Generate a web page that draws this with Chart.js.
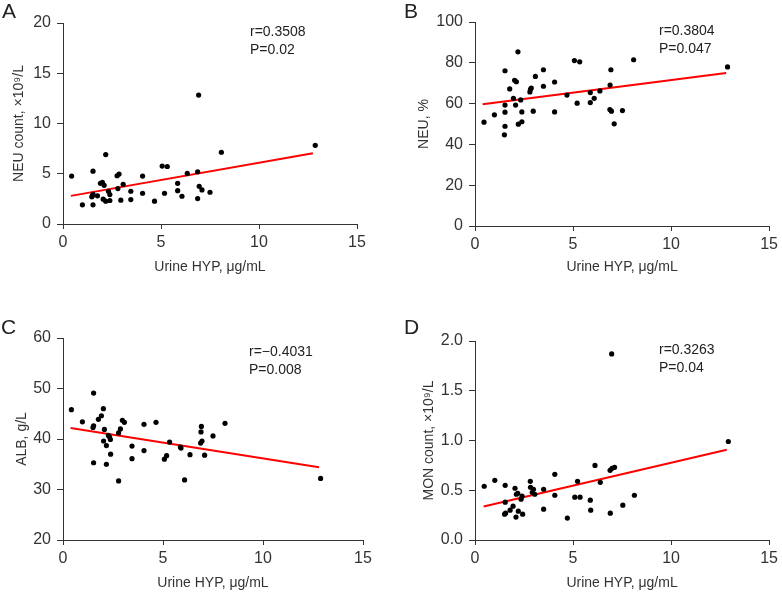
<!DOCTYPE html>
<html>
<head>
<meta charset="utf-8">
<script src="https://cdn.jsdelivr.net/npm/chart.js@4.4.0/dist/chart.umd.min.js"></script>
<style>
body{margin:0;background:#fff;width:782px;height:592px;position:relative;overflow:hidden;font-family:"Liberation Sans",Arial,sans-serif;color:#222}
.panel{position:absolute;width:391px;height:296px}
.tag{position:absolute;font-size:21px;line-height:21px}
.stat{position:absolute;font-size:14px;line-height:18px;white-space:nowrap}
</style>
</head>
<body>
<div class="panel" style="left:0;top:0"><canvas id="cA" width="391" height="296"></canvas></div>
<div class="panel" style="left:391px;top:0"><canvas id="cB" width="391" height="296"></canvas></div>
<div class="panel" style="left:0;top:296px"><canvas id="cC" width="391" height="296"></canvas></div>
<div class="panel" style="left:391px;top:296px"><canvas id="cD" width="391" height="296"></canvas></div>

<div class="tag" style="left:2px;top:0">A</div>
<div class="tag" style="left:404px;top:0">B</div>
<div class="tag" style="left:1px;top:316px">C</div>
<div class="tag" style="left:404px;top:316px">D</div>

<div class="stat" style="left:250px;top:22px">r=0.3508<br>P=0.02</div>
<div class="stat" style="left:659px;top:21px">r=0.3804<br>P=0.047</div>
<div class="stat" style="left:249px;top:342px">r=−0.4031<br>P=0.008</div>
<div class="stat" style="left:659px;top:340px">r=0.3263<br>P=0.04</div>

<script>
// urine HYP (x) for each panel
const hypA = [0.44,0.99,1.53,1.50,1.47,1.53,1.53,1.76,1.91,2.01,2.10,2.18,2.05,2.18,2.39,2.32,2.39,2.76,2.86,2.80,3.07,2.95,3.46,3.46,4.06,4.06,4.67,5.06,5.32,5.18,5.85,5.85,6.07,6.34,6.87,6.87,6.95,7.09,7.50,8.08,12.87,6.92];
const neuCount = [4.77,1.91,5.26,2.80,2.70,2.96,1.91,2.80,4.05,4.14,3.85,6.91,2.47,2.27,2.34,3.26,2.93,4.80,4.97,3.52,3.95,2.37,3.26,2.43,4.77,3.06,2.27,5.76,5.72,3.06,4.05,3.32,2.76,5.03,5.20,2.53,3.75,3.39,3.16,7.14,7.83,12.83];

const hypB = [0.46,0.99,1.53,1.53,1.53,1.53,1.50,1.77,1.96,2.02,2.11,2.07,2.19,2.21,2.33,2.39,2.39,2.80,2.83,2.87,2.97,3.08,3.49,3.49,4.06,4.06,4.69,5.07,5.21,5.34,5.88,5.88,6.08,6.37,6.89,6.93,6.88,6.96,7.10,7.52,8.09,12.88];
const neuPct = [50.9,54.5,76.1,59.3,55.8,48.9,44.7,67.2,62.6,71.4,70.7,59.3,85.4,49.9,61.8,55.9,51.1,65.7,67.0,67.6,56.3,73.3,76.6,68.5,70.6,55.9,64.2,81.1,60.2,80.5,65.4,60.5,62.6,66.2,69.1,76.6,57.1,56.3,50.1,56.6,81.5,78.0];

const hypC = [0.42,0.97,1.53,1.50,1.53,1.53,1.77,1.92,2.02,2.07,2.03,2.17,2.17,2.27,2.33,2.37,2.38,2.78,2.78,2.87,2.97,3.07,3.45,3.45,4.05,4.05,4.65,5.07,5.18,5.33,5.87,5.90,6.08,6.35,6.90,6.92,6.88,6.95,7.08,7.50,8.10,12.88];
const alb = [45.8,43.4,49.1,42.3,42.6,35.3,43.9,44.6,46.0,41.9,39.6,38.7,35.0,40.7,40.4,39.9,37.0,41.2,31.7,42.0,43.7,43.3,38.6,36.1,42.9,37.7,43.3,36.0,36.7,39.4,38.4,38.2,31.9,36.9,41.4,42.5,39.2,39.6,36.8,40.6,43.1,32.2];

const hypD = [0.47,1.01,1.54,1.54,1.51,1.56,1.79,1.94,2.04,2.11,2.18,2.09,2.21,2.35,2.40,2.43,2.82,2.83,2.92,2.98,3.05,3.50,3.50,4.07,4.07,4.71,5.09,5.23,5.36,5.88,5.90,6.12,6.39,6.90,6.89,6.99,7.12,6.97,7.54,8.13,12.92];
const monCount = [0.54,0.60,0.55,0.38,0.26,0.27,0.30,0.34,0.52,0.46,0.47,0.23,0.29,0.41,0.44,0.26,0.59,0.53,0.48,0.51,0.46,0.51,0.31,0.66,0.45,0.22,0.43,0.59,0.43,0.40,0.30,0.75,0.58,0.27,0.70,0.72,0.73,1.87,0.35,0.45,0.99];

// fitted line end points (x and y), as drawn
const fitAx = [0.40, 12.75], fitAy = [2.80, 7.04];
const fitBx = [0.39, 12.81], fitBy = [59.7, 75.0];
const fitCx = [0.38, 12.80], fitCy = [42.2, 34.4];
const fitDx = [0.44, 12.84], fitDy = [0.337, 0.907];

// axis ticks
const xTicks = [0, 5, 10, 15];
const xTickLabels = ['0', '5', '10', '15'];
const yTicksA = [0, 5, 10, 15, 20];
const yLabelsA = ['0', '5', '10', '15', '20'];
const yTicksB = [0, 20, 40, 60, 80, 100];
const yLabelsB = ['0', '20', '40', '60', '80', '100'];
const yTicksC = [20, 30, 40, 50, 60];
const yLabelsC = ['20', '30', '40', '50', '60'];
const yTicksD = [0, 0.5, 1, 1.5, 2];
const yLabelsD = ['0.0', '0.5', '1.0', '1.5', '2.0'];

const ink = '#333';

function scatterPanel(id, xs, ys, fx, fy, yTicks, yLabels, yTitle, box) {
    const pts = xs.map((x, i) => ({x: x, y: ys[i]}));
    const fit = fx.map((x, i) => ({x: x, y: fy[i]}));
    new Chart(document.getElementById(id), {
        type: 'scatter',
        data: {
            datasets: [{
                data: pts,
                backgroundColor: '#000',
                borderWidth: 0,
                pointRadius: 2.6
            }, {
                data: fit,
                showLine: true,
                borderColor: '#ff0000',
                borderWidth: 2,
                pointRadius: 0
            }]
        },
        options: {
            responsive: false,
            animation: false,
            layout: {padding: {left: 0, top: box.top, right: 391 - box.right, bottom: 0}},
            plugins: {legend: {display: false}, tooltip: {enabled: false}},
            scales: {
                x: {
                    type: 'linear',
                    min: 0, max: 15,
                    afterBuildTicks: s => { s.ticks = xTicks.map(v => ({value: v})) },
                    afterFit: s => { s.height = 296 - box.bottom },
                    grid: {drawOnChartArea: false, tickLength: 5, color: ink},
                    border: {color: ink, width: 1},
                    ticks: {
                        font: {size: 16, family: 'Liberation Sans'},
                        color: ink, padding: 4, maxRotation: 0,
                        callback: (v, i) => xTickLabels[i]
                    },
                    title: {
                        display: true, text: 'Urine HYP, μg/mL', color: ink,
                        font: {size: 14, family: 'Liberation Sans'},
                        padding: {top: 0, bottom: 296 - box.xTitleY - 8.4}
                    }
                },
                y: {
                    type: 'linear',
                    min: yTicks[0], max: yTicks[yTicks.length - 1],
                    afterBuildTicks: s => { s.ticks = yTicks.map(v => ({value: v})) },
                    afterFit: s => { s.width = box.left },
                    grid: {drawOnChartArea: false, tickLength: 6, color: ink},
                    border: {color: ink, width: 1},
                    ticks: {
                        font: {size: 16, family: 'Liberation Sans'},
                        color: ink, padding: 6,
                        callback: (v, i) => yLabels[i]
                    },
                    title: {
                        display: true, text: yTitle, color: ink,
                        font: {size: 14, family: 'Liberation Sans'},
                        padding: {top: box.yTitleX - 8.4, bottom: 0}
                    }
                }
            }
        }
    });
}

scatterPanel('cA', hypA, neuCount, fitAx, fitAy, yTicksA, yLabelsA, 'NEU count, ×10⁹/L',
    {left: 63, right: 357, top: 23, bottom: 224, yTitleX: 19, xTitleY: 267});
scatterPanel('cB', hypB, neuPct, fitBx, fitBy, yTicksB, yLabelsB, 'NEU, %',
    {left: 84, right: 380, top: 22, bottom: 226, yTitleX: 33, xTitleY: 267});
scatterPanel('cC', hypC, alb, fitCx, fitCy, yTicksC, yLabelsC, 'ALB, g/L',
    {left: 63, right: 363, top: 42, bottom: 244, yTitleX: 22, xTitleY: 287});
scatterPanel('cD', hypD, monCount, fitDx, fitDy, yTicksD, yLabelsD, 'MON count, ×10⁹/L',
    {left: 84, right: 381, top: 45, bottom: 244, yTitleX: 38, xTitleY: 287});
</script>
</body>
</html>
